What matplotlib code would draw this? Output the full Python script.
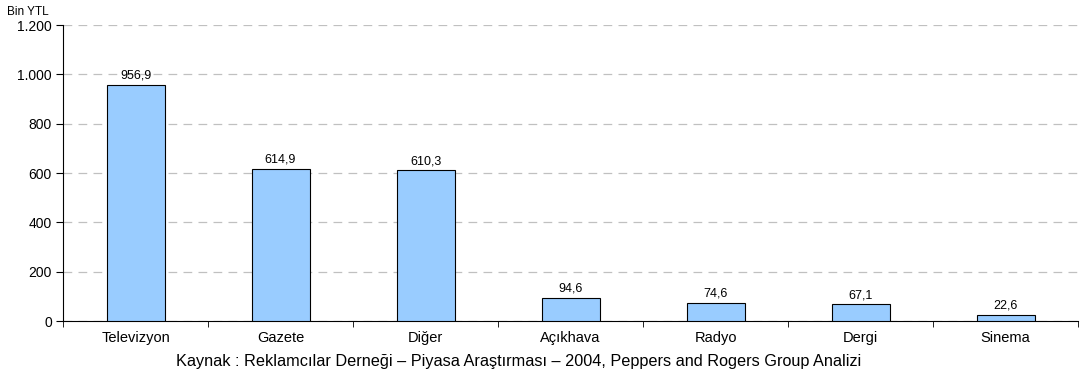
import numpy as np
import matplotlib
matplotlib.use('Agg')
import matplotlib.pyplot as plt
from matplotlib.ticker import FuncFormatter

categories = ['Televizyon', 'Gazete', 'Diğer', 'Açıkhava', 'Radyo', 'Dergi', 'Sinema']
values = [956.9, 614.9, 610.3, 94.6, 74.6, 67.1, 22.6]
y_ticks = [0, 200, 400, 600, 800, 1000, 1200]

plt.rcParams['font.family'] = ['Liberation Sans', 'DejaVu Sans']

fig = plt.figure(figsize=(10.9, 3.74), dpi=100)
ax = fig.add_axes([0.0578, 0.1417, 0.9312, 0.7913])

x = np.arange(len(categories))
ax.bar(x, values, width=0.4, color='#99CCFF', edgecolor='black', linewidth=0.8, zorder=3)
for xi, v in zip(x, values):
    ax.text(xi, v + 14, f'{v:.1f}'.replace('.', ','), ha='center', va='bottom', fontsize=9)

ax.set_xlim(-0.5, len(categories) - 0.5)
ax.set_ylim(0, 1200)
ax.set_yticks(y_ticks)
ax.yaxis.set_major_formatter(FuncFormatter(lambda v, p: f'{int(v):,}'.replace(',', '.')))
ax.set_xticks(x)
ax.set_xticklabels(categories, fontsize=10.5)
ax.set_xticks(np.arange(-0.5, len(categories)), minor=True)
ax.tick_params(axis='x', which='major', length=0, pad=7)
ax.tick_params(axis='x', which='minor', length=4, direction='out')
ax.tick_params(axis='y', labelsize=10, length=5, direction='out', pad=3)
ax.grid(axis='y', linestyle=(0, (7, 5)), color='#C0C0C0', linewidth=0.9, zorder=0)

for s in ['top', 'right']:
    ax.spines[s].set_visible(False)

fig.text(0.006, 0.952, 'Bin YTL', fontsize=8.5, ha='left', va='bottom')
fig.text(0.476, 0.022, 'Kaynak : Reklamcılar Derneği – Piyasa Araştırması – 2004, Peppers and Rogers Group Analizi',
         fontsize=11.7, ha='center', va='baseline')

fig.savefig('out.png', dpi=100)
